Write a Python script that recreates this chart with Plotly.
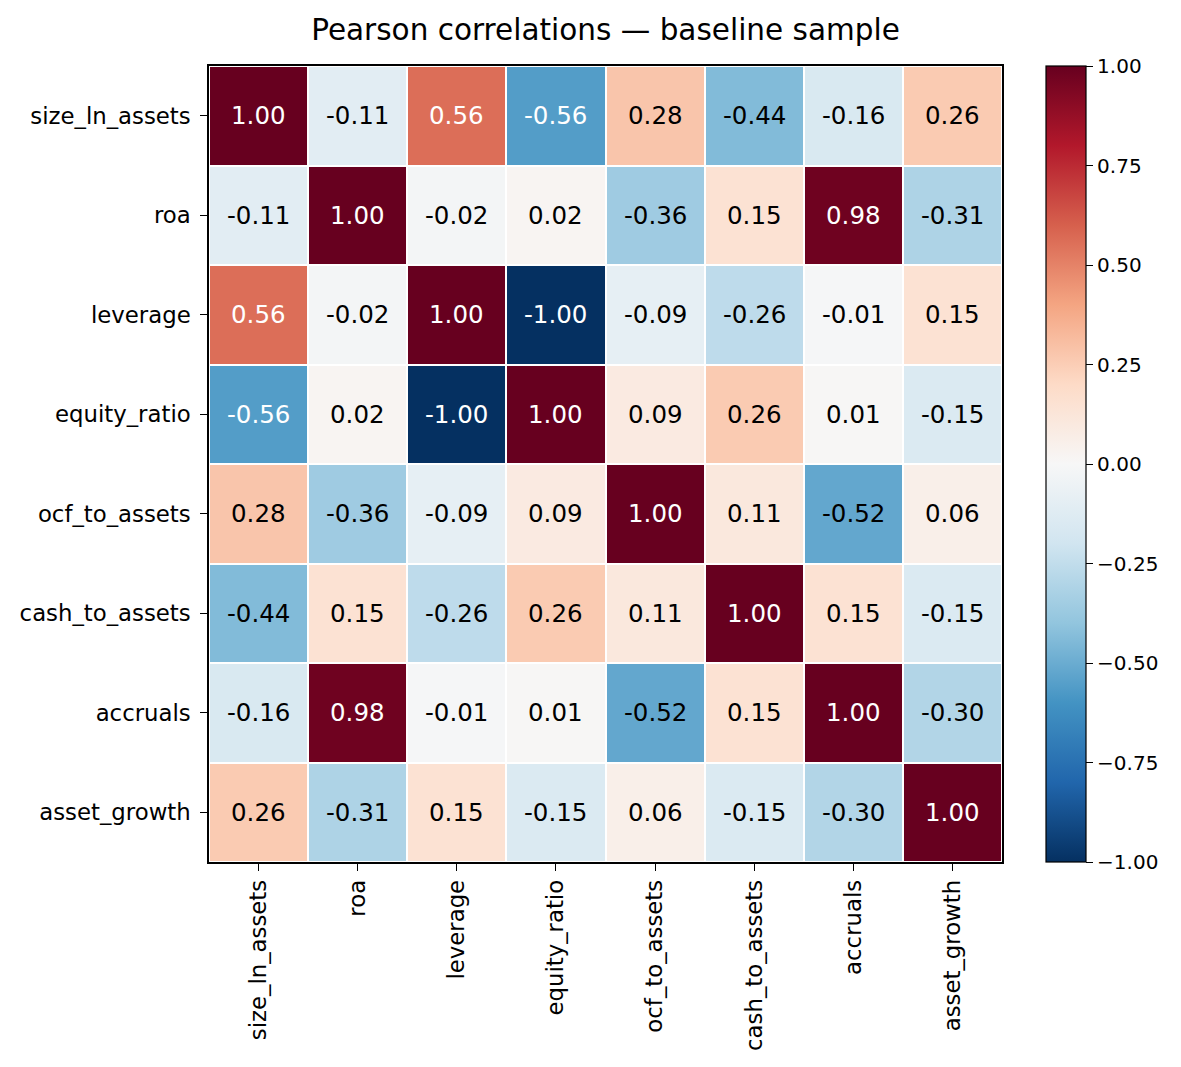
import plotly.graph_objects as go

# variables shown on both axes
variables = ['size_ln_assets', 'roa', 'leverage', 'equity_ratio',
             'ocf_to_assets', 'cash_to_assets', 'accruals', 'asset_growth']

# correlation matrix, row by row
corr = [
    [1.00, -0.11, 0.56, -0.56, 0.28, -0.44, -0.16, 0.26],
    [-0.11, 1.00, -0.02, 0.02, -0.36, 0.15, 0.98, -0.31],
    [0.56, -0.02, 1.00, -1.00, -0.09, -0.26, -0.01, 0.15],
    [-0.56, 0.02, -1.00, 1.00, 0.09, 0.26, 0.01, -0.15],
    [0.28, -0.36, -0.09, 0.09, 1.00, 0.11, -0.52, 0.06],
    [-0.44, 0.15, -0.26, 0.26, 0.11, 1.00, 0.15, -0.15],
    [-0.16, 0.98, -0.01, 0.01, -0.52, 0.15, 1.00, -0.30],
    [0.26, -0.31, 0.15, -0.15, 0.06, -0.15, -0.30, 1.00],
]

cbar_ticks = [-1.0, -0.75, -0.5, -0.25, 0.0, 0.25, 0.5, 0.75, 1.0]

# matplotlib RdBu_r
rdbu_r = ['#053061', '#2166ac', '#4393c3', '#92c5de', '#d1e5f0', '#f7f7f7',
          '#fddbc7', '#f4a582', '#d6604d', '#b2182b', '#67001f']
colorscale = [[i / (len(rdbu_r) - 1), c] for i, c in enumerate(rdbu_r)]

FONT = 'DejaVu Sans'

fig = go.Figure(go.Heatmap(
    z=corr, x=variables, y=variables,
    zmin=-1, zmax=1, colorscale=colorscale,
    xgap=2, ygap=2, hoverongaps=False,
    colorbar=dict(
        x=1.055, xanchor='left', xpad=0, y=0.5, yanchor='middle',
        len=1, lenmode='fraction', thickness=40, ypad=0,
        outlinewidth=1.2, outlinecolor='black',
        tickvals=cbar_ticks, tickformat='.2f', tickprefix='\u2009',
        ticks='outside', ticklen=7, tickwidth=1.2, tickcolor='black',
        tickfont=dict(family=FONT, size=20, color='black'),
    ),
))

# cell labels: white on the darkest cells
for i, row in enumerate(corr):
    for j, v in enumerate(row):
        fig.add_annotation(
            x=variables[j], y=variables[i], text=f'{v:.2f}', showarrow=False,
            font=dict(family=FONT, size=24.5,
                      color='white' if abs(v) >= 0.55 else 'black'),
        )

axis_style = dict(
    showline=True, mirror=True, linecolor='black', linewidth=1.5,
    ticks='outside', ticklen=7, tickwidth=1.2, tickcolor='black',
    tickfont=dict(family=FONT, size=22.8, color='black'),
    showgrid=False, zeroline=False,
)

fig.update_xaxes(tickangle=-90, **axis_style)
fig.update_yaxes(autorange='reversed', ticklabelstandoff=5, **axis_style)

fig.update_layout(
    width=1181, height=1067,
    margin=dict(l=196, r=187, t=58, b=213),
    paper_bgcolor='white', plot_bgcolor='white',
    title=dict(text='Pearson correlations — baseline sample',
               x=0.5, xref='paper', xanchor='center',
               y=1 - 22 / 1067, yanchor='middle',
               font=dict(family=FONT, size=29.5, color='black')),
)

fig.write_html('out.html')
